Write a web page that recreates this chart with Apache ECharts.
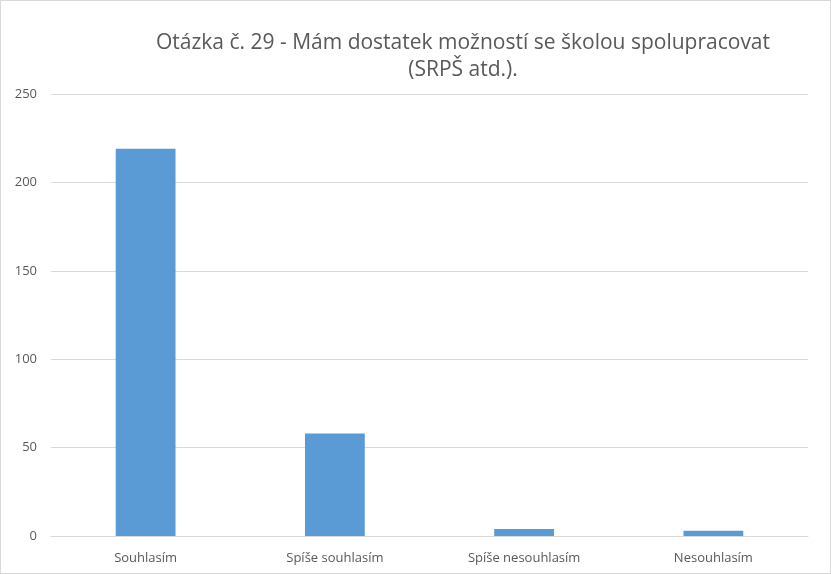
<!DOCTYPE html>
<html>
<head>
<meta charset="utf-8">
<script src="https://cdn.jsdelivr.net/npm/echarts@6/dist/echarts.min.js"></script>
<style>
  html, body { margin: 0; padding: 0; background: #fff; }
  #chart { width: 831px; height: 574px; box-sizing: border-box; border: 1px solid #d9d9d9; }
</style>
</head>
<body>
<div id="chart"></div>
<script>
// Answers to survey question 29
const titleText = 'Otázka č. 29 - Mám dostatek možností se školou spolupracovat\n(SRPŠ atd.).';
const categories = ['Souhlasím', 'Spíše souhlasím', 'Spíše nesouhlasím', 'Nesouhlasím'];
const counts = [219, 58, 4, 3];
const yTicks = { min: 0, max: 250, interval: 50 };

const chart = echarts.init(document.getElementById('chart'), null, { renderer: 'canvas' });
chart.setOption({
  animation: false,
  textStyle: { fontFamily: 'Open Sans, Noto Sans, sans-serif' },
  title: {
    text: titleText,
    left: 457,
    top: 24,
    textAlign: 'center',
    textStyle: {
      fontFamily: 'Open Sans, Noto Sans, sans-serif',
      fontSize: 21,
      fontWeight: 'normal',
      color: '#595959',
      lineHeight: 27,
      align: 'center'
    }
  },
  grid: { left: 50, right: 22, top: 93, bottom: 37 },
  xAxis: {
    type: 'category',
    data: categories,
    axisLine: { lineStyle: { color: '#d9d9d9' } },
    axisTick: { show: false },
    axisLabel: { color: '#595959', fontSize: 13, margin: 16 }
  },
  yAxis: {
    type: 'value',
    min: yTicks.min,
    max: yTicks.max,
    interval: yTicks.interval,
    axisLine: { show: false },
    axisTick: { show: false },
    axisLabel: { color: '#595959', fontSize: 13, margin: 14 },
    splitLine: { lineStyle: { color: '#d9d9d9' } }
  },
  series: [{
    type: 'bar',
    data: counts,
    barWidth: '31.6%',
    itemStyle: { color: '#5b9bd5' }
  }]
});
</script>
</body>
</html>
